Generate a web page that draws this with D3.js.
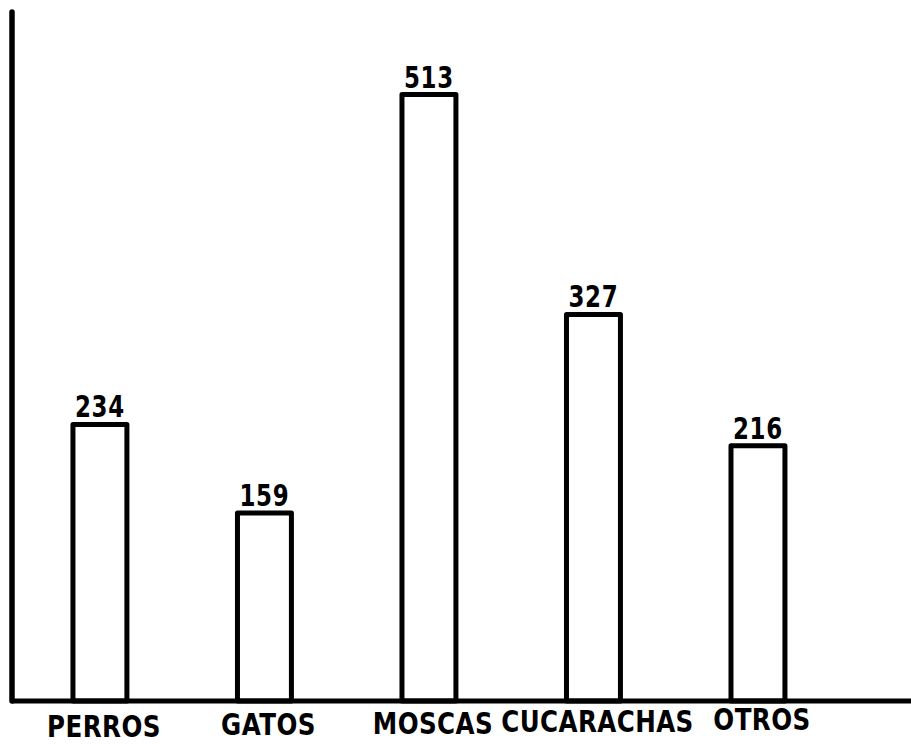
<!DOCTYPE html>
<html>
<head>
<meta charset="utf-8">
<script src="https://cdn.jsdelivr.net/npm/d3@7"></script>
<style>
  html, body { margin: 0; padding: 0; background: #fff; }
  svg { display: block; }
  text { font-family: "DejaVu Sans", sans-serif; font-weight: bold; fill: #000; }
</style>
</head>
<body>
<svg id="chart" width="911" height="746"></svg>
<script>
const categories = ["PERROS", "GATOS", "MOSCAS", "CUCARACHAS", "OTROS"];
const values = [234, 159, 513, 327, 216];
const valueLabels = ["234", "159", "513", "327", "216"];

const W = 911, H = 746;
const svg = d3.select("#chart");

const baseline = 701;
const axisX = 12;

const x = d3.scaleBand()
  .domain(categories)
  .range([23.6, 834.3])
  .paddingInner(0.672)
  .paddingOuter(0.3);

const y = d3.scaleLinear()
  .domain([0, 593])
  .range([baseline, 0]);

const data = categories.map((c, i) => ({ cat: c, value: values[i], label: valueLabels[i] }));
const cx = d => x(d.cat) + x.bandwidth() / 2;

// bars
svg.selectAll("rect.bar")
  .data(data)
  .join("rect")
  .attr("class", "bar")
  .attr("x", d => x(d.cat))
  .attr("y", d => y(d.value))
  .attr("width", x.bandwidth())
  .attr("height", d => baseline - y(d.value))
  .attr("fill", "#fff")
  .attr("stroke", "#000")
  .attr("stroke-width", 5)
  .attr("stroke-linejoin", "round");

// value labels (narrow lettering)
svg.selectAll("text.val")
  .data(data)
  .join("text")
  .attr("class", "val")
  .attr("transform", d => `translate(${cx(d)},${y(d.value) - 7}) scale(0.74,1)`)
  .attr("text-anchor", "middle")
  .attr("font-size", 31)
  .attr("letter-spacing", 1)
  .text(d => d.label);

// axes lines
svg.append("line")
  .attr("x1", axisX).attr("y1", 12)
  .attr("x2", axisX).attr("y2", baseline)
  .attr("stroke", "#000").attr("stroke-width", 5.5).attr("stroke-linecap", "round");

svg.append("line")
  .attr("x1", axisX).attr("y1", baseline)
  .attr("x2", W).attr("y2", baseline)
  .attr("stroke", "#000").attr("stroke-width", 5);

// category labels (hand lettering drifts slightly upward to the right)
svg.selectAll("text.cat")
  .data(data)
  .join("text")
  .attr("class", "cat")
  .attr("transform", d => `translate(${cx(d) + 4},${738 - 0.01 * cx(d)}) scale(0.82,1)`)
  .attr("text-anchor", "middle")
  .attr("font-size", 30)
  .attr("letter-spacing", 0.5)
  .text(d => d.cat);
</script>
</body>
</html>
